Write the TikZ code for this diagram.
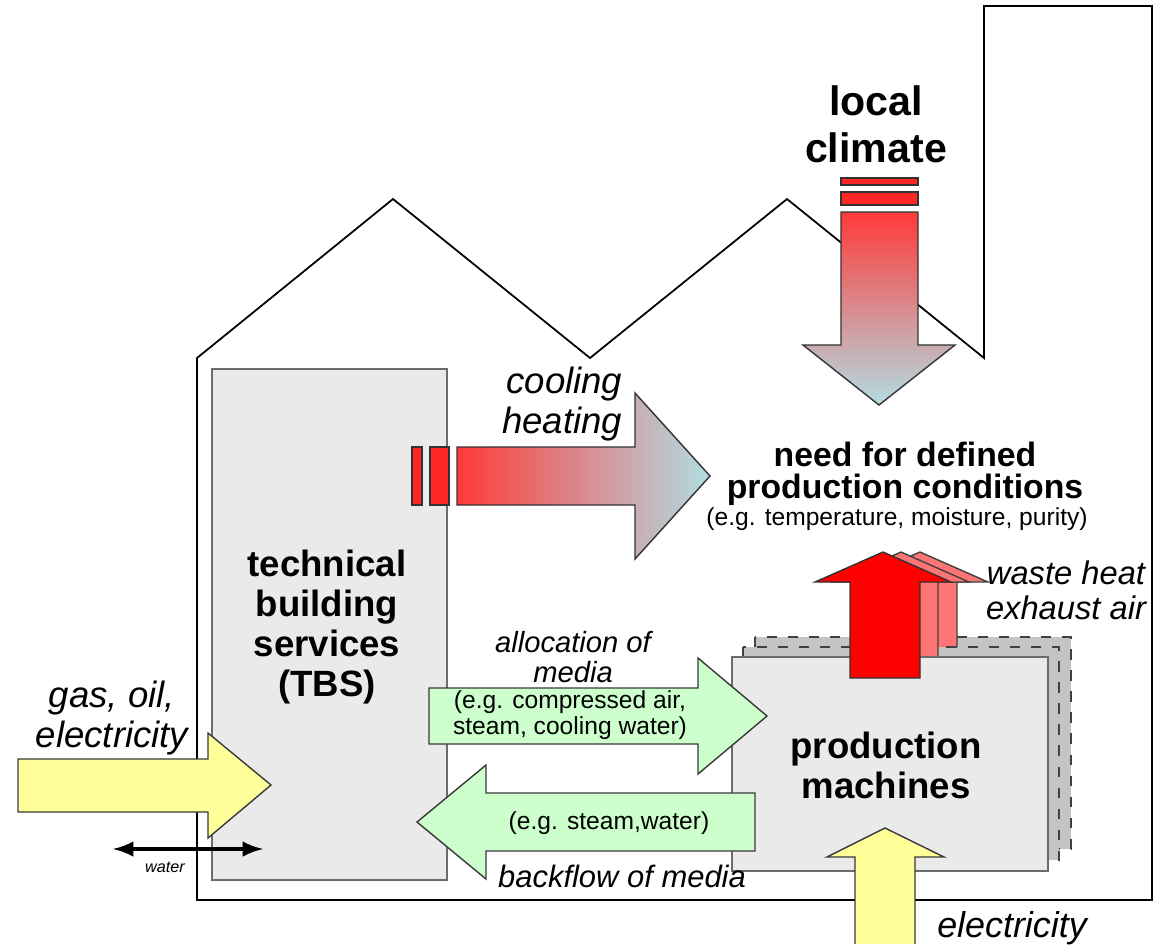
\documentclass[tikz,border=0pt]{standalone}
\usepackage{fontspec}
\setmainfont{Liberation Sans}
\usetikzlibrary{arrows}

\definecolor{hotred}{HTML}{FF3A3A}
\definecolor{coolblue}{HTML}{B2DDE3}
\definecolor{stripered}{HTML}{FF2626}
\definecolor{backred}{HTML}{FF7474}
\definecolor{yelfill}{HTML}{FFFF99}
\definecolor{grnfill}{HTML}{CCFFCC}
\definecolor{boxgray}{HTML}{EAEAEA}
\definecolor{dashgray}{HTML}{C4C4C4}

\begin{document}
\begin{tikzpicture}[x=0.01cm, y=-0.01cm,
  wall/.style = {draw=black, line width=0.5pt, line join=miter},
  graybox/.style = {draw=gray!85!black, fill=boxgray, line width=0.5pt},
  backbox/.style = {draw=gray!50!black, fill=dashgray, dashed, line width=0.5pt},
  yelarrow/.style = {draw=gray!45!black, fill=yelfill, line width=0.4pt},
  grnarrow/.style = {draw=gray!45!black, fill=grnfill, line width=0.4pt},
  stripe/.style = {draw=gray!40!black, fill=stripered, line width=0.4pt},
  txt/.style = {inner sep=0pt, align=center},
  bigbold/.style = {txt, font=\bfseries\fontsize{10.4}{11.4}\selectfont},
  bigital/.style = {txt, font=\itshape\fontsize{10.4}{11.2}\selectfont},
  small/.style = {txt, font=\fontsize{7}{7.4}\selectfont}]
\useasboundingbox (0,0) rectangle (1173,944);

% building with saw-tooth roof and chimney
\draw[wall] (197,900) -- (197,358) -- (393,199) -- (590,358) -- (787,199)
  -- (984,358) -- (984,6) -- (1152,6) -- (1152,900) -- cycle;

% technical building services
\draw[graybox] (212,369) rectangle (447,880);

% cooling / heating
\draw[stripe] (412,447) rectangle (422,505);
\draw[stripe] (430,447) rectangle (449,505);
\shadedraw[left color=hotred, right color=coolblue, draw=gray!40!black, line width=0.4pt]
  (457,447) -- (635,447) -- (635,393) -- (710,476) -- (635,559) -- (635,505) -- (457,505) -- cycle;

% local climate
\draw[stripe] (841,178) rectangle (918,185);
\draw[stripe] (841,192) rectangle (918,205);
\shadedraw[top color=hotred, bottom color=coolblue, draw=gray!40!black, line width=0.4pt]
  (841,212) -- (918,212) -- (918,345) -- (955,345) -- (879,405) -- (803,345) -- (841,345) -- cycle;

% production machines, stacked
\draw[backbox] (755,637) rectangle (1071,849);
\draw[fill=backred, draw=gray!50!black, line width=0.4pt]
  (887,660) -- (887,582) -- (852,582) -- (920,552) -- (988,582) -- (957,582) -- (957,660) -- cycle;
\draw[backbox] (743,647) rectangle (1059,860);
\draw[fill=backred, draw=gray!50!black, line width=0.4pt]
  (868,670) -- (868,582) -- (833,582) -- (901,552) -- (969,582) -- (938,582) -- (938,670) -- cycle;
\draw[graybox] (732,657) rectangle (1048,871);
\draw[fill=red, draw=gray!40!black, line width=0.4pt]
  (850,678) -- (850,582) -- (815,582) -- (883,552) -- (951,582) -- (920,582) -- (920,678) -- cycle;

% media flows
\draw[grnarrow] (429,688) -- (698,688) -- (698,658) -- (767,716) -- (698,774) -- (698,744) -- (429,744) -- cycle;
\draw[grnarrow] (755,793) -- (486,793) -- (486,765) -- (417,822) -- (486,879) -- (486,851) -- (755,851) -- cycle;

% energy supply
\draw[yelarrow] (18,759) -- (208,759) -- (208,733) -- (271,785) -- (208,838) -- (208,812) -- (18,812) -- cycle;
\draw[yelarrow] (855,944) -- (855,857) -- (827,857) -- (885,828) -- (944,857) -- (915,857) -- (915,944);

% water
\coordinate (wl) at (113,849);
\coordinate (wr) at (263,849);
\draw[latex-latex, line width=1pt] (wl) -- (wr);

% labels
\node[txt, font=\bfseries\fontsize{11.7}{13.4}\selectfont] (lc) at (876,124) {local\\climate};
\node[bigital, align=right, anchor=east] (ch) at (623,404) {cooling\\heating};
\node[txt, font=\bfseries\fontsize{9.6}{9.1}\selectfont] (need) at (905,474) {need for defined\\production conditions};
\node[small] (cond) at (897,519) {(e.g. temperature, moisture, purity)};
\node[bigbold] (tbs) at (327,627) {technical\\building\\services\\(TBS)};
\node[bigital] (gas) at (112,718) {gas, oil,\\electricity};
\node[txt, font=\itshape\fontsize{8.3}{8.5}\selectfont] (alloc) at (573,657) {allocation of\\media};
\node[small] (med) at (570,715) {(e.g. compressed air,\\steam, cooling water)};
\node[small] (back) at (609,823) {(e.g. steam,water)};
\node[txt, font=\itshape\fontsize{8.8}{9}\selectfont] (bfl) at (622,876) {backflow of media};
\node[bigbold] (pm) at (886,765) {production\\machines};
\node[txt, font=\itshape\fontsize{9.3}{10}\selectfont] (waste) at (1066,590) {waste heat\\exhaust air};
\node[txt, font=\itshape\fontsize{10.2}{11}\selectfont] (el) at (1012,928) {electricity};
\node[txt, font=\itshape\fontsize{4.6}{5}\selectfont] (wat) at (165,867) {water};
\end{tikzpicture}
\end{document}
